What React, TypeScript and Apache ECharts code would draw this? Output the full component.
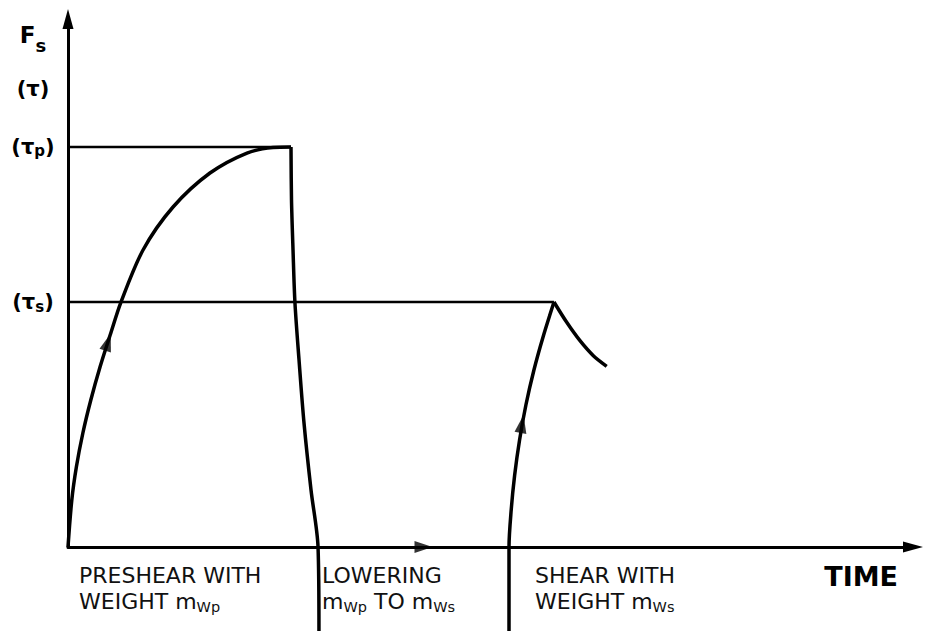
import React, { useEffect, useRef } from "react";
import * as echarts from "echarts";

// ---- data (x: time units 0..100, y: shear force units 0..100) ----
const tauP = 75.76;
const tauS = 46.4;
const preshearCurve: number[][] = [
  [0, 0], [0.45, 8.9], [0.99, 15.15], [1.76, 21.59], [2.7, 27.84], [3.79, 34.09],
  [4.99, 40.15], [6.27, 46.4], [8.88, 56.25], [12.43, 64.39], [16.8, 70.83],
  [21.18, 74.62], [24.26, 75.66], [26.39, 75.76],
];
const loweringCurve: number[][] = [
  [26.39, 75.76], [26.45, 65.72], [26.63, 56.25], [26.86, 46.21], [27.34, 35.42],
  [27.93, 23.48], [28.76, 10.8], [29.59, 0], [29.7, -15.91],
];
const shearRise: number[][] = [
  [52.19, -15.91], [52.19, 0], [52.45, 7.01], [52.86, 13.64], [53.44, 20.27],
  [54.19, 26.89], [55.14, 33.52], [56.22, 39.77], [57.51, 46.4],
];
const shearDecay: number[][] = [
  [57.51, 46.4], [59.02, 42.55], [60.59, 39.07], [62.17, 36.23], [63.75, 34.22],
];
const tauPLine: number[][] = [[0, tauP], [26.39, tauP]];
const tauSLine: number[][] = [[0, tauS], [57.51, tauS]];
const arrowPositions: number[][] = [[4.73, 38.83], [53.73, 23.3], [42.07, 0]];
const arrowAngles: number[] = [-18, -10, -90];

const yLabelValues: number[] = [97, 86.8, tauP, tauS];
const yLabelTexts: string[] = ["{F|F}{Fs|s}", "{b|(τ)}", "{b|(τ}{bs|p}{b|)}", "{b|(τ}{bs|s}{b|)}"];
const phaseLabels: string[] = [
  "PRESHEAR WITH\nWEIGHT m{sub|Wp}",
  "LOWERING\nm{sub|Wp} TO m{sub|Ws}",
  "SHEAR WITH\nWEIGHT m{sub|Ws}",
];
const timeLabel = "TIME";

const FONT = "DejaVu Sans";

export default function App() {
  const ref = useRef<HTMLDivElement>(null);
  useEffect(() => {
    if (!ref.current) return;
    const chart = echarts.init(ref.current, undefined, { renderer: "svg" });
    const curve = (data: number[][], width: number, smooth: number | boolean) => ({
      type: "line",
      data,
      smooth,
      symbol: "none",
      clip: false,
      lineStyle: { color: "#000", width },
      z: 3,
    });
    const phaseRich = {
      n: { fontFamily: FONT, fontSize: 22, color: "#111", lineHeight: 26 },
      sub: { fontFamily: FONT, fontSize: 14.5, color: "#111", lineHeight: 14, verticalAlign: "bottom" },
    };
    const phaseX = [79, 322, 535];
    chart.setOption({
      animation: false,
      backgroundColor: "#fff",
      grid: { left: 68, right: 12, top: 19, bottom: 84 },
      xAxis: {
        type: "value",
        min: 0,
        max: 100,
        axisLine: { show: true, onZero: true, symbol: ["none", "triangle"], symbolSize: [11, 20], lineStyle: { color: "#000", width: 3 } },
        axisTick: { show: false },
        axisLabel: { show: false },
        splitLine: { show: false },
      },
      yAxis: {
        type: "value",
        min: 0,
        max: 100,
        axisLine: { show: true, symbol: ["none", "triangle"], symbolSize: [11, 20], lineStyle: { color: "#000", width: 3 } },
        axisTick: { show: false },
        splitLine: { show: false },
        axisLabel: {
          show: true,
          customValues: yLabelValues,
          align: "center",
          margin: 35,
          formatter: (v: number) => {
            const i = yLabelValues.findIndex((x) => Math.abs(x - v) < 1e-6);
            return i >= 0 ? yLabelTexts[i] : "";
          },
          rich: {
            F: { fontFamily: FONT, fontWeight: "bold", fontSize: 23, color: "#000", lineHeight: 40 },
            Fs: { fontFamily: FONT, fontWeight: "bold", fontSize: 18, color: "#000", lineHeight: 18, verticalAlign: "bottom" },
            b: { fontFamily: FONT, fontWeight: "bold", fontSize: 21, color: "#000", lineHeight: 24 },
            bs: { fontFamily: FONT, fontWeight: "bold", fontSize: 15, color: "#000", lineHeight: 14, verticalAlign: "bottom" },
          },
        },
      },
      series: [
        curve(tauPLine, 2.5, false),
        curve(tauSLine, 2.5, false),
        curve(preshearCurve, 3.5, 0.3),
        curve(loweringCurve, 3.5, 0.3),
        curve(shearRise, 3.5, 0.3),
        curve(shearDecay, 3.5, 0.3),
        {
          type: "scatter",
          data: arrowPositions.map((p, i) => ({ value: p, symbolRotate: arrowAngles[i] })),
          symbol: "triangle",
          symbolSize: [12, 18],
          itemStyle: { color: "#000" },
          z: 4,
        },
      ],
      graphic: [
        ...phaseLabels.map((t, i) => ({
          type: "text",
          x: phaseX[i],
          y: 562,
          style: {
            text: t.split("\n").map((line) => line.replace(/^([^{]+)/, "{n|$1}").replace(/\}([^{]+)/g, "}{n|$1}")).join("\n"),
            rich: phaseRich,
            fill: "#111",
            align: "left",
            verticalAlign: "top",
          },
        })),
        {
          type: "text",
          x: 898,
          y: 576,
          style: {
            text: timeLabel,
            fontFamily: FONT,
            fontWeight: "bold",
            fontSize: 27,
            fill: "#000",
            align: "right",
            verticalAlign: "middle",
          },
        },
      ],
    });
    return () => chart.dispose();
  }, []);
  return (
    <div
      ref={ref}
      style={{ position: "absolute", left: 0, top: 0, width: 925, height: 631, background: "#fff" }}
    />
  );
}
